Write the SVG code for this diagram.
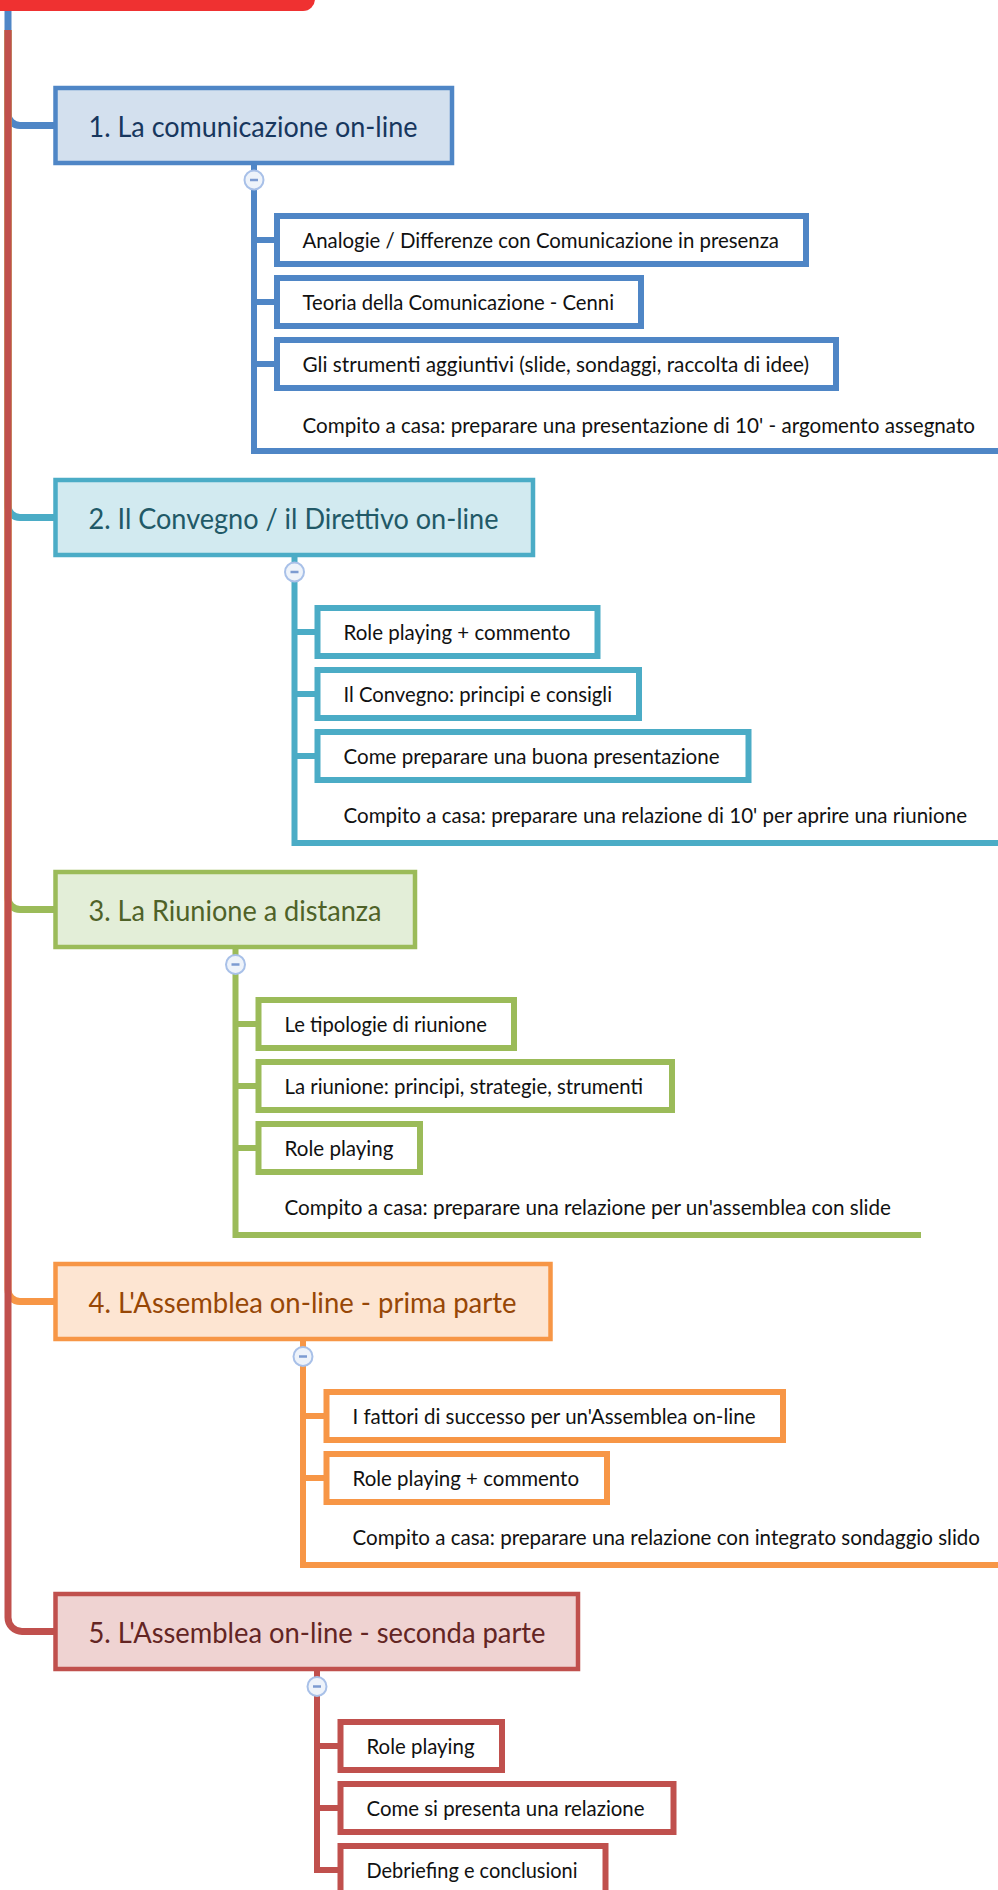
<svg xmlns="http://www.w3.org/2000/svg" width="998" height="1890" viewBox="0 0 998 1890">
<style>
  .hdr { font-family: Lato, "Open Sans", "Liberation Sans", sans-serif; font-size: 28px; }
  .ch { font-family: Lato, "Open Sans", "Liberation Sans", sans-serif; font-size: 20.5px; fill: #111; }
  .hbox { stroke-width: 4.5; }
  .cbox { fill: #fff; stroke-width: 6; }
  .ln { fill: none; stroke-width: 6; stroke-linejoin: miter; stroke-linecap: butt; }
  .tr { fill: none; stroke-width: 7; stroke-linecap: butt; }
  .tog circle { fill: #EEF3FA; stroke: #A8C0E8; stroke-width: 2; }
  .tog line { stroke: #7C9BD1; stroke-width: 2.5; }
  .c1 { stroke: #4F86C6; } .c2 { stroke: #4BACC6; } .c3 { stroke: #9BBB59; } .c4 { stroke: #F79646; } .c5 { stroke: #C0504D; }
</style>

<g id="root">
  <rect x="-40" y="-40" width="355" height="51" rx="12" fill="#EF3131"/>
</g>

<g id="connectors">
  <path class="tr c1" d="M8,11 V113.5 A12,12 0 0 0 20,125.5 H56"/>
  <path class="tr c2" d="M8,30 V505.5 A12,12 0 0 0 20,517.5 H56"/>
  <path class="tr c3" d="M8,30 V897.5 A12,12 0 0 0 20,909.5 H56"/>
  <path class="tr c4" d="M8,30 V1289.5 A12,12 0 0 0 20,1301.5 H56"/>
  <path class="tr c5" d="M8,30 V1617.5 A14,14 0 0 0 22,1631.5 H56"/>

  <path class="ln c1" d="M254,165 V451 H1000"/>
  <path class="ln c1" d="M254,240 H278 M254,302 H278 M254,364 H278"/>

  <path class="ln c2" d="M294.5,557 V843 H1000"/>
  <path class="ln c2" d="M294.5,632 H318 M294.5,694 H318 M294.5,756 H318"/>

  <path class="ln c3" d="M235.5,949 V1235 H921"/>
  <path class="ln c3" d="M235.5,1024 H259 M235.5,1086 H259 M235.5,1148 H259"/>

  <path class="ln c4" d="M303,1341 V1565 H1000"/>
  <path class="ln c4" d="M303,1416 H327 M303,1478 H327"/>

  <path class="ln c5" d="M317,1671 V1870 H341"/>
  <path class="ln c5" d="M317,1746 H341 M317,1808 H341"/>
</g>

<g id="n1">
  <rect class="hbox c1" x="55.5" y="88" width="396.5" height="75" fill="#D3E0EE"/>
  <text class="hdr" x="88.5" y="137" textLength="329" lengthAdjust="spacingAndGlyphs" fill="#17375E">1. La comunicazione on-line</text>
  <g class="tog"><circle cx="254" cy="180" r="9.5"/><line x1="250" y1="180" x2="258" y2="180"/></g>
</g>
<g id="n1a"><rect class="cbox c1" x="277" y="216" width="529" height="48"/><text class="ch" x="302.5" y="247.5" textLength="476.5" lengthAdjust="spacingAndGlyphs">Analogie / Differenze con Comunicazione in presenza</text></g>
<g id="n1b"><rect class="cbox c1" x="277" y="278" width="364" height="48"/><text class="ch" x="302.5" y="309.5" textLength="311.5" lengthAdjust="spacingAndGlyphs">Teoria della Comunicazione - Cenni</text></g>
<g id="n1c"><rect class="cbox c1" x="277" y="340" width="559" height="48"/><text class="ch" x="302.5" y="371.5" textLength="506.5" lengthAdjust="spacingAndGlyphs">Gli strumenti aggiuntivi (slide, sondaggi, raccolta di idee)</text></g>
<g id="n1d"><text class="ch" x="302.5" y="433" textLength="672.5" lengthAdjust="spacingAndGlyphs">Compito a casa: preparare una presentazione di 10' - argomento assegnato</text></g>

<g id="n2">
  <rect class="hbox c2" x="55.5" y="480" width="477.5" height="75" fill="#D2EAF0"/>
  <text class="hdr" x="88.5" y="528.5" textLength="410" lengthAdjust="spacingAndGlyphs" fill="#215967">2. Il Convegno / il Direttivo on-line</text>
  <g class="tog"><circle cx="294.5" cy="572" r="9.5"/><line x1="290.5" y1="572" x2="298.5" y2="572"/></g>
</g>
<g id="n2a"><rect class="cbox c2" x="317.5" y="608" width="280" height="48"/><text class="ch" x="343.5" y="639.5" textLength="227" lengthAdjust="spacingAndGlyphs">Role playing + commento</text></g>
<g id="n2b"><rect class="cbox c2" x="317.5" y="670" width="321.5" height="48"/><text class="ch" x="343.5" y="701.5" textLength="268.5" lengthAdjust="spacingAndGlyphs">Il Convegno: principi e consigli</text></g>
<g id="n2c"><rect class="cbox c2" x="317.5" y="732" width="431" height="48"/><text class="ch" x="343.5" y="763.5" textLength="376" lengthAdjust="spacingAndGlyphs">Come preparare una buona presentazione</text></g>
<g id="n2d"><text class="ch" x="343.5" y="823" textLength="623.5" lengthAdjust="spacingAndGlyphs">Compito a casa: preparare una relazione di 10' per aprire una riunione</text></g>

<g id="n3">
  <rect class="hbox c3" x="55.5" y="872" width="359.5" height="75" fill="#E3EED8"/>
  <text class="hdr" x="88.5" y="920.5" textLength="293" lengthAdjust="spacingAndGlyphs" fill="#4F6228">3. La Riunione a distanza</text>
  <g class="tog"><circle cx="235.5" cy="964.5" r="9.5"/><line x1="231.5" y1="964.5" x2="239.5" y2="964.5"/></g>
</g>
<g id="n3a"><rect class="cbox c3" x="258.5" y="1000" width="255.5" height="48"/><text class="ch" x="284.5" y="1031.5" textLength="202.5" lengthAdjust="spacingAndGlyphs">Le tipologie di riunione</text></g>
<g id="n3b"><rect class="cbox c3" x="258.5" y="1062" width="413.5" height="48"/><text class="ch" x="284.5" y="1093.5" textLength="358.5" lengthAdjust="spacingAndGlyphs">La riunione: principi, strategie, strumenti</text></g>
<g id="n3c"><rect class="cbox c3" x="258.5" y="1124" width="161.5" height="48"/><text class="ch" x="284.5" y="1155.5" textLength="109" lengthAdjust="spacingAndGlyphs">Role playing</text></g>
<g id="n3d"><text class="ch" x="284.5" y="1215" textLength="606.5" lengthAdjust="spacingAndGlyphs">Compito a casa: preparare una relazione per un'assemblea con slide</text></g>

<g id="n4">
  <rect class="hbox c4" x="55.5" y="1264" width="495" height="75" fill="#FDE5D2"/>
  <text class="hdr" x="88.5" y="1312.5" textLength="428" lengthAdjust="spacingAndGlyphs" fill="#974706">4. L'Assemblea on-line - prima parte</text>
  <g class="tog"><circle cx="303" cy="1356.5" r="9.5"/><line x1="299" y1="1356.5" x2="307" y2="1356.5"/></g>
</g>
<g id="n4a"><rect class="cbox c4" x="326.5" y="1392" width="456.5" height="48"/><text class="ch" x="352.5" y="1423.5" textLength="403" lengthAdjust="spacingAndGlyphs">I fattori di successo per un'Assemblea on-line</text></g>
<g id="n4b"><rect class="cbox c4" x="326.5" y="1454" width="280.5" height="48"/><text class="ch" x="352.5" y="1485.5" textLength="226.5" lengthAdjust="spacingAndGlyphs">Role playing + commento</text></g>
<g id="n4c"><text class="ch" x="352.5" y="1545" textLength="627.5" lengthAdjust="spacingAndGlyphs">Compito a casa: preparare una relazione con integrato sondaggio slido</text></g>

<g id="n5">
  <rect class="hbox c5" x="55.5" y="1594" width="522.5" height="75" fill="#EFD3D2"/>
  <text class="hdr" x="88.5" y="1642.5" textLength="457" lengthAdjust="spacingAndGlyphs" fill="#632523">5. L'Assemblea on-line - seconda parte</text>
  <g class="tog"><circle cx="317" cy="1686.5" r="9.5"/><line x1="313" y1="1686.5" x2="321" y2="1686.5"/></g>
</g>
<g id="n5a"><rect class="cbox c5" x="340.5" y="1722" width="161.5" height="48"/><text class="ch" x="366.5" y="1753.5" textLength="108" lengthAdjust="spacingAndGlyphs">Role playing</text></g>
<g id="n5b"><rect class="cbox c5" x="340.5" y="1784" width="333" height="48"/><text class="ch" x="366.5" y="1815.5" textLength="278" lengthAdjust="spacingAndGlyphs">Come si presenta una relazione</text></g>
<g id="n5c"><rect class="cbox c5" x="340.5" y="1846" width="265" height="48"/><text class="ch" x="366.5" y="1877.5" textLength="211" lengthAdjust="spacingAndGlyphs">Debriefing e conclusioni</text></g>
</svg>
